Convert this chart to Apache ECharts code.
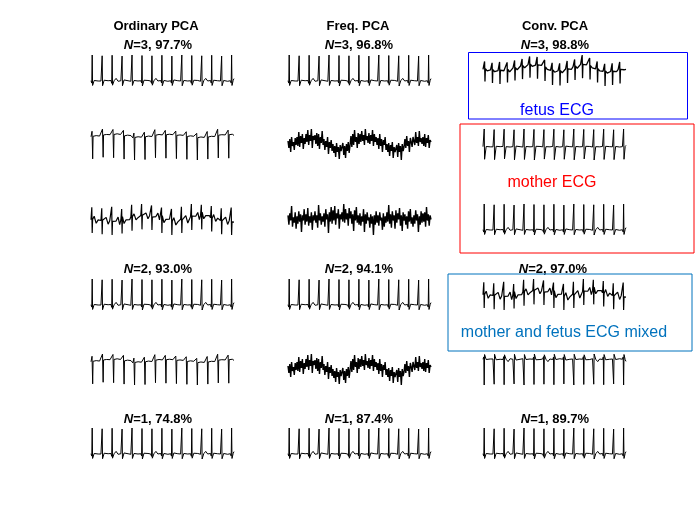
<!DOCTYPE html>
<html>
<head>
<meta charset="utf-8">
<script src="https://cdn.jsdelivr.net/npm/echarts@6/dist/echarts.min.js"></script>
<style>
  html, body { margin: 0; padding: 0; background: #fff; }
  #chart { width: 700px; height: 525px; }
</style>
</head>
<body>
<div id="chart"></div>
<script>
// column headers and per-panel captions
const columnTitles = ['Ordinary PCA', 'Freq. PCA', 'Conv. PCA'];
const captionN = [3, 2, 1];
const captionPct = [
  ['97.7%', '96.8%', '98.8%'],
  ['93.0%', '94.1%', '97.0%'],
  ['74.8%', '87.4%', '89.7%']
];

// sample times (ms/4) for the maternal-rate traces, 15 beats
const motherTime = [
  0,4,6,8,16,26,36,44,
  50,54,56,58,66,76,86,94,
  100,104,106,108,116,126,136,144,
  150,154,156,158,166,176,186,194,
  200,204,206,208,216,226,236,244,
  250,254,256,258,266,276,286,294,
  300,304,306,308,316,326,336,344,
  350,354,356,358,366,376,386,394,
  400,404,406,408,416,426,436,444,
  450,454,456,458,466,476,486,494,
  500,504,506,508,516,526,536,544,
  550,554,556,558,566,576,586,594,
  600,604,606,608,616,626,636,644,
  650,654,656,658,666,676,686,694,
  700,704,706,708,714,718
];

// clean maternal ECG, upright R peaks
const motherEcg = [
  0.02,-0.07,1.00,-0.16,0.03,0.10,0.01,0.06,
  0.01,-0.06,0.97,-0.17,0.04,0.09,0.02,0.07,
  0.03,-0.08,0.99,-0.15,0.02,0.11,0.00,0.05,
  0.02,-0.05,0.96,-0.17,0.05,0.08,0.02,0.07,
  0.00,-0.07,1.00,-0.16,0.03,0.10,0.01,0.06,
  0.02,-0.06,0.98,-0.18,0.04,0.09,0.03,0.05,
  0.01,-0.08,0.97,-0.15,0.02,0.11,0.01,0.07,
  0.03,-0.06,0.99,-0.17,0.03,0.10,0.00,0.06,
  0.02,-0.07,0.96,-0.16,0.05,0.08,0.02,0.05,
  0.01,-0.05,1.00,-0.17,0.03,0.10,0.01,0.07,
  0.02,-0.08,0.98,-0.15,0.04,0.09,0.03,0.06,
  0.00,-0.06,0.97,-0.18,0.02,0.11,0.01,0.05,
  0.03,-0.07,0.99,-0.16,0.04,0.10,0.02,0.07,
  0.01,-0.06,0.96,-0.17,0.03,0.08,0.00,0.06,
  0.02,-0.07,1.00,-0.16,0.04,0.10
];

// maternal ECG with deep S wave (Conv. PCA, 2nd row)
const motherBi = [
  0.02,0.06,1.00,-0.68,0.03,0.09,0.01,0.05,
  0.01,0.05,0.97,-0.70,0.04,0.08,0.02,0.06,
  0.03,0.07,0.99,-0.66,0.02,0.10,0.00,0.04,
  0.02,0.04,0.96,-0.71,0.05,0.07,0.02,0.06,
  0.00,0.06,1.00,-0.69,0.03,0.09,0.01,0.05,
  0.02,0.05,0.98,-0.72,0.04,0.08,0.03,0.04,
  0.01,0.07,0.97,-0.67,0.02,0.10,0.01,0.06,
  0.03,0.05,0.99,-0.70,0.03,0.09,0.00,0.05,
  0.02,0.06,0.96,-0.68,0.05,0.07,0.02,0.04,
  0.01,0.04,1.00,-0.71,0.03,0.09,0.01,0.06,
  0.02,0.07,0.98,-0.66,0.04,0.08,0.03,0.05,
  0.00,0.05,0.97,-0.72,0.02,0.10,0.01,0.04,
  0.03,0.06,0.99,-0.69,0.04,0.09,0.02,0.06,
  0.01,0.05,0.96,-0.70,0.03,0.07,0.00,0.05,
  0.02,0.06,1.00,-0.68,0.04,0.09
];

// sample times for the negative-peak maternal trace, 14 beats
const motherInvTime = [
  0,5,8,10,17,25,33,41,46,
  50,55,58,60,67,75,83,91,96,
  100,105,108,110,117,125,133,141,146,
  150,155,158,160,167,175,183,191,196,
  200,205,208,210,217,225,233,241,246,
  250,255,258,260,267,275,283,291,296,
  300,305,308,310,317,325,333,341,346,
  350,355,358,360,367,375,383,391,396,
  400,405,408,410,417,425,433,441,446,
  450,455,458,460,467,475,483,491,496,
  500,505,508,510,517,525,533,541,546,
  550,555,558,560,567,575,583,591,596,
  600,605,608,610,617,625,633,641,646,
  650,655,658,660,667,675,
  683
];

// maternal ECG, negative peaks, slight baseline wander
const motherInv = [
  0.02,0.26,-0.95,0.04,-0.03,0.07,-0.01,0.05,0.00,
  0.07,0.36,-0.88,0.10,0.03,0.12,0.05,0.11,0.06,
  0.10,0.34,-0.90,0.12,0.05,0.15,0.07,0.12,0.06,
  0.04,0.30,-0.96,0.06,-0.01,0.09,0.01,0.07,0.00,
  -0.03,0.18,-1.00,-0.01,-0.08,0.02,-0.06,0.00,-0.07,
  0.00,0.22,-0.98,0.02,-0.05,0.05,-0.03,0.03,-0.02,
  0.07,0.33,-0.90,0.09,0.02,0.12,0.04,0.10,0.05,
  0.09,0.30,-0.92,0.11,0.04,0.13,0.06,0.11,0.05,
  0.06,0.27,-0.94,0.08,0.01,0.10,0.03,0.08,0.02,
  0.01,0.24,-0.97,0.03,-0.04,0.06,-0.02,0.04,-0.03,
  -0.04,0.17,-1.00,-0.02,-0.09,0.01,-0.07,-0.01,-0.06,
  -0.01,0.25,-0.96,0.01,-0.06,0.04,-0.04,0.03,0.01,
  0.07,0.35,-0.91,0.09,0.02,0.11,0.04,0.10,0.05,
  0.09,0.31,-0.92,0.11,0.04,0.13,
  0.08
];

// sample times for the fetal trace, 19 beats
const fetusTime = [
  0,8,10,12,21,30,
  38,46,48,50,59,68,
  76,84,86,88,97,106,
  114,122,124,126,135,144,
  152,160,162,164,173,182,
  190,198,200,202,211,220,
  228,236,238,240,249,258,
  266,274,276,278,287,296,
  304,312,314,316,325,334,
  342,350,352,354,363,372,
  380,388,390,392,401,410,
  418,426,428,430,439,448,
  456,464,466,468,477,486,
  494,502,504,506,515,524,
  532,540,542,544,553,562,
  570,578,580,582,591,600,
  608,616,618,620,629,638,
  646,654,656,658,667,676,
  684,692,694,696,705,714,
  724
];

// fetal ECG with baseline wander
const fetusEcg = [
  0.05,0.85,-1.20,0.10,-0.12,0.08,
  -0.02,0.70,-1.35,0.02,-0.20,-0.05,
  -0.08,0.80,-1.45,-0.05,-0.25,-0.10,
  0.00,0.75,-1.30,0.05,-0.22,-0.02,
  0.20,0.95,-1.10,0.22,0.00,0.18,
  0.38,1.10,-0.95,0.42,0.20,0.35,
  0.52,1.35,-0.80,0.58,0.35,0.50,
  0.48,1.30,-0.90,0.50,0.30,0.45,
  0.25,1.00,-1.15,0.28,0.05,0.20,
  -0.05,0.70,-1.55,-0.02,-0.25,-0.10,
  -0.10,0.65,-1.60,-0.08,-0.30,-0.15,
  0.08,0.90,-1.35,0.10,-0.10,0.05,
  0.32,1.05,-1.05,0.38,0.15,0.30,
  0.55,1.50,-0.85,0.55,0.35,0.50,
  0.40,1.20,-1.00,0.42,0.20,0.35,
  0.10,0.85,-1.30,0.10,-0.12,0.05,
  -0.15,0.60,-1.65,-0.12,-0.35,-0.20,
  -0.18,0.65,-1.55,-0.15,-0.32,-0.20,
  0.02,0.80,-1.40,0.05,-0.15,0.00,
  0.05
];

// maternal + fetal mixture (same sample times as motherTime)
const mixedEcg = [
  0.03,0.92,-0.90,0.05,0.28,-0.22,0.02,-0.03,
  -0.02,0.85,-1.00,0.00,-0.06,0.20,-0.28,-0.04,
  -0.05,0.95,-1.05,-0.08,-0.12,-0.06,0.22,-0.32,
  0.02,0.80,-0.95,0.26,-0.24,0.03,-0.02,0.04,
  0.22,1.10,-0.75,0.25,0.45,0.02,0.18,0.24,
  0.33,1.15,-0.65,0.35,0.28,0.52,0.10,0.32,
  0.28,1.05,-0.70,0.22,0.30,0.26,0.50,0.02,
  0.08,0.90,-0.90,0.32,-0.18,0.06,0.02,0.07,
  -0.06,0.80,-1.05,-0.08,0.18,-0.34,-0.12,-0.05,
  0.07,0.95,-0.90,0.03,0.08,0.32,-0.20,0.06,
  0.27,1.15,-0.70,0.30,0.22,0.28,0.55,0.05,
  0.34,1.10,-0.65,0.58,0.10,0.32,0.28,0.33,
  0.18,1.00,-0.80,0.12,0.40,-0.08,0.15,0.18,
  -0.02,0.85,-1.00,-0.04,-0.08,0.22,-0.30,-0.03,
  -0.07,0.90,-1.05,-0.12,-0.08,-0.13
];

// noisy estimate with strong baseline wander (uniform samples)
const noisyWavy = [
  0.2,-0.5,0.4,-0.9,0.6,-0.3,0.1,-0.7,0.5,-0.2,
  0.6,-0.3,1.1,-0.4,0.7,0.0,0.9,-0.6,0.5,-0.1,
  0.9,0.1,1.3,-0.2,0.8,0.2,1.4,-0.5,0.7,0.3,
  0.8,-0.1,1.0,-0.3,0.9,-0.6,0.6,0.0,1.2,-0.2,
  0.4,-0.7,0.2,-0.4,0.6,-1.1,0.1,-0.5,0.3,-0.8,
  -0.1,-1.0,-0.3,-1.4,0.0,-0.9,-0.4,-1.6,-0.2,-0.8,
  -0.9,0.0,-1.2,-0.3,-1.5,-0.1,-0.8,0.1,-1.0,-0.2,
  0.7,-0.4,0.9,-0.2,1.3,0.1,0.6,-0.5,1.0,-0.1,
  0.9,0.1,1.2,0.2,0.8,-0.2,1.4,0.3,0.7,0.0,
  1.0,-0.1,0.8,0.2,1.3,-0.3,0.9,0.1,0.6,-0.2,
  0.5,-0.6,0.9,-0.3,0.4,-0.9,0.3,-0.2,0.6,-0.7,
  -0.1,-0.9,0.0,-1.3,-0.2,-0.8,0.1,-1.5,-0.4,-0.9,
  -1.0,-0.2,-1.4,0.0,-0.9,-0.3,-1.7,-0.1,-0.8,-0.4,
  0.4,-0.5,0.7,-0.3,0.2,-0.9,0.5,0.1,-0.4,0.6,
  0.8,-0.2,1.1,0.0,0.6,-0.3,1.2,0.1,0.5,-0.1,
  0.6,-0.3,0.9,-0.4,0.5,0.0,0.8,-0.5,0.3,0.1
];

// noisy estimate, mild wander (uniform samples)
const noisyFlat = [
  0.3,-0.6,0.5,-0.2,1.2,-0.8,0.1,-0.4,0.6,-1.0,
  0.2,-0.5,0.7,-0.3,0.4,-1.3,0.3,-0.2,0.9,-0.6,
  0.4,-0.3,1.0,-0.7,0.2,-0.4,0.6,-1.1,0.3,-0.2,
  0.7,-0.4,0.3,-0.9,1.3,-0.2,0.5,-0.6,0.2,-0.3,
  0.5,-0.8,0.9,-0.1,0.4,-1.4,0.6,-0.3,1.1,-0.5,
  0.8,-0.2,1.2,-0.6,0.5,0.0,0.9,-1.0,0.4,-0.1,
  0.6,-0.3,1.4,-0.4,0.9,-0.1,0.5,-0.7,1.0,0.0,
  0.7,-0.5,0.4,-1.2,0.8,-0.2,1.1,-0.4,0.3,-0.6,
  0.5,-0.7,0.2,-0.3,0.9,-1.3,0.4,-0.5,0.6,-0.2,
  0.1,-0.9,0.4,-0.5,0.2,-1.6,0.3,-0.6,0.7,-0.4,
  0.3,-0.7,0.6,-0.2,0.1,-1.1,0.5,-0.8,0.2,-0.4,
  0.6,-0.3,1.3,-0.5,0.4,-0.9,0.7,-0.2,0.3,-1.0,
  0.8,-0.4,0.5,-0.1,1.0,-0.7,0.3,-1.2,0.6,-0.2,
  0.4,-0.6,0.2,-1.0,0.7,-0.3,0.9,-0.5,0.1,-0.8,
  0.3,-0.5,0.8,-0.2,0.4,-1.3,0.2,-0.6,0.7,-0.4,
  0.5,-0.3,0.6,-0.8,1.1,-0.2,0.4,-0.7,0.3,-0.1
];

const MOTHER = { t: motherTime, v: motherEcg, w: 1 };
const M_BI = { t: motherTime, v: motherBi, w: 1 };
const M_INV = { t: motherInvTime, v: motherInv, w: 1 };
const FETUS = { t: fetusTime, v: fetusEcg, w: 1.3 };
const MIXED = { t: motherTime, v: mixedEcg, w: 1.2 };
const N_WAVY = { t: null, v: noisyWavy, w: 1.4 };
const N_FLAT = { t: null, v: noisyFlat, w: 1.4 };

// which signal goes in each panel [row][col]
const panelSignals = [
  [MOTHER, MOTHER, FETUS],
  [M_INV, N_WAVY, M_BI],
  [MIXED, N_FLAT, MOTHER],
  [MOTHER, MOTHER, MIXED],
  [M_INV, N_WAVY, MOTHER],
  [MOTHER, MOTHER, MOTHER]
];
// this panel shows the maternal trace with reversed sign (inverted y axis)
const flipped = [[4, 2]];

// layout (pixels)
const colLeft = [91, 288, 483];
const panelW = 143;
const rowTop = [55, 129, 204, 279, 354, 428];
const panelH = 31;

const chart = echarts.init(document.getElementById('chart'));

const grids = [], xAxes = [], yAxes = [], series = [];
panelSignals.forEach((row, r) => {
  row.forEach((sig, c) => {
    const i = grids.length;
    const inv = flipped.some(p => p[0] === r && p[1] === c);
    const pts = sig.v.map((v, k) => [sig.t ? sig.t[k] : k, v]);
    grids.push({ left: colLeft[c], top: rowTop[r], width: panelW, height: panelH });
    xAxes.push({ gridIndex: i, type: 'value', min: 0, max: pts[pts.length - 1][0], show: false });
    yAxes.push({ gridIndex: i, type: 'value', min: 'dataMin', max: 'dataMax', scale: true, inverse: inv, show: false });
    series.push({
      type: 'line',
      xAxisIndex: i,
      yAxisIndex: i,
      data: pts,
      showSymbol: false,
      silent: true,
      lineStyle: { color: '#000', width: sig.w, join: 'bevel' }
    });
  });
});

const font = 'Liberation Sans, Arial, sans-serif';
const headX = [156, 358, 555];
const captionX = [[158, 359, 555], [158, 359, 553], [158, 359, 555]];
const captionY = [45, 269, 419];

const texts = [];
columnTitles.forEach((t, c) => {
  texts.push({
    type: 'text', x: headX[c], y: 26,
    style: { text: t, font: 'bold 13px ' + font, fill: '#000', align: 'center', verticalAlign: 'middle' }
  });
});
captionPct.forEach((rowVals, k) => {
  rowVals.forEach((p, c) => {
    texts.push({
      type: 'text', x: captionX[k][c], y: captionY[k],
      style: {
        text: '{i|N}=' + captionN[k] + ', ' + p,
        font: 'bold 13px ' + font, fill: '#000', align: 'center', verticalAlign: 'middle',
        rich: { i: { fontStyle: 'italic', fontWeight: 'bold', fontSize: 13, fontFamily: font, fill: '#000' } }
      }
    });
  });
});

const boxes = [
  { x: 468.5, y: 52.5, w: 219, h: 66.5, color: '#0000ff', label: 'fetus ECG', lx: 557, ly: 111 },
  { x: 460, y: 124, w: 234, h: 129, color: '#ff0000', label: 'mother ECG', lx: 552, ly: 183 },
  { x: 448, y: 274, w: 244, h: 77, color: '#0072bd', label: 'mother and fetus ECG mixed', lx: 564, ly: 333 }
];
boxes.forEach(b => {
  texts.push({
    type: 'rect', shape: { x: b.x, y: b.y, width: b.w, height: b.h },
    style: { fill: 'none', stroke: b.color, lineWidth: 1 }, z: 10
  });
  texts.push({
    type: 'text', x: b.lx, y: b.ly, z: 10,
    style: { text: b.label, font: '16px ' + font, fill: b.color, align: 'center', verticalAlign: 'middle' }
  });
});

chart.setOption({
  animation: false,
  backgroundColor: '#fff',
  grid: grids,
  xAxis: xAxes,
  yAxis: yAxes,
  series: series,
  graphic: texts
});

window.addEventListener('resize', function () {
  chart.resize();
});
</script>
</body>
</html>
